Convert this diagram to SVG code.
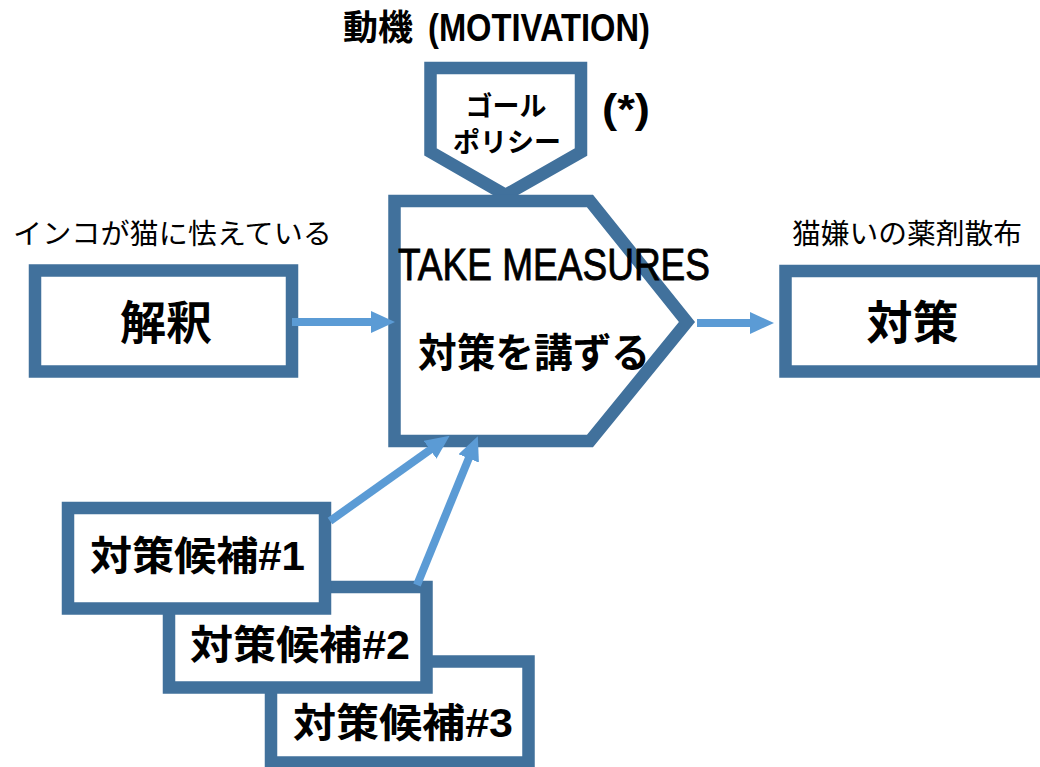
<svg xmlns="http://www.w3.org/2000/svg" width="1040" height="767" viewBox="0 0 1040 767">
<defs>
<style>
.node{fill:#fff;stroke:#41719C;stroke-width:12.5;stroke-linejoin:miter;stroke-miterlimit:10}
.t{font-family:"Liberation Sans","Noto Sans CJK JP",sans-serif;fill:#000}
.n{font-family:"Liberation Sans Narrow","Liberation Sans","Noto Sans CJK JP",sans-serif}
.b{font-weight:bold}
.m{stroke:#000;stroke-width:0.9}
.conn{stroke:#5B9BD5;stroke-width:8;fill:none;marker-end:url(#ah)}
</style>
<marker id="ah" viewBox="0 0 24 22" refX="1" refY="11" markerWidth="24" markerHeight="22" markerUnits="userSpaceOnUse" orient="auto">
<path d="M0,0 L24,11 L0,22 z" fill="#5B9BD5"/>
</marker>
</defs>
<rect width="1040" height="767" fill="#fff"/>

<g id="title">
<text class="t b" x="343" y="40" font-size="35" textLength="70" lengthAdjust="spacingAndGlyphs">動機</text>
<text class="t n b" x="428" y="41" font-size="39" textLength="222" lengthAdjust="spacingAndGlyphs">(MOTIVATION)</text>
</g>

<g id="goal-policy">
<polygon class="node" points="430.5,68 581,68 581,152 505.5,195 430.5,152"/>
<text class="t b" x="506" y="116" font-size="27" text-anchor="middle">ゴール</text>
<text class="t b" x="507" y="152" font-size="27" text-anchor="middle">ポリシー</text>
</g>

<g id="asterisk">
<text class="t n b" x="602" y="123" font-size="41" textLength="48" lengthAdjust="spacingAndGlyphs">(*)</text>
</g>

<g id="take-measures">
<polygon class="node" points="394.5,201 590,201 687,322 590,441 394.5,441"/>
<text class="t n m" x="398" y="280" font-size="45" textLength="312" lengthAdjust="spacingAndGlyphs">TAKE MEASURES</text>
<text class="t b" x="418" y="367" font-size="40" textLength="232" lengthAdjust="spacingAndGlyphs">対策を講ずる</text>
</g>

<g id="interpretation">
<text class="t" x="13" y="244" font-size="28" textLength="319" lengthAdjust="spacingAndGlyphs">インコが猫に怯えている</text>
<rect class="node" x="35" y="270.5" width="257" height="101"/>
<text class="t b" x="166" y="339" font-size="46" text-anchor="middle">解釈</text>
</g>

<g id="measure">
<text class="t" x="792" y="244" font-size="28" textLength="230" lengthAdjust="spacingAndGlyphs">猫嫌いの薬剤散布</text>
<rect class="node" x="785.5" y="271" width="258" height="100.5"/>
<text class="t b" x="912.5" y="339" font-size="46" text-anchor="middle">対策</text>
</g>

<g id="candidate3">
<rect class="node" x="271" y="661.5" width="257.5" height="101"/>
<text class="t b" x="293" y="737" font-size="40" textLength="220" lengthAdjust="spacingAndGlyphs">対策候補#3</text>
</g>

<g id="candidate2">
<rect class="node" x="169" y="587" width="257.5" height="100.5"/>
<text class="t b" x="190" y="659" font-size="40" textLength="220" lengthAdjust="spacingAndGlyphs">対策候補#2</text>
</g>

<g id="candidate1">
<rect class="node" x="68" y="508" width="257" height="100.5"/>
<text class="t b" x="90" y="570" font-size="40" textLength="215" lengthAdjust="spacingAndGlyphs">対策候補#1</text>
</g>

<g id="connectors">
<line class="conn" x1="292" y1="322" x2="372" y2="322"/>
<line class="conn" x1="697" y1="323" x2="751" y2="323"/>
<line class="conn" x1="330" y1="521" x2="430.9" y2="449.2"/>
<line class="conn" x1="417" y1="585" x2="469.1" y2="457.5"/>
</g>
</svg>
